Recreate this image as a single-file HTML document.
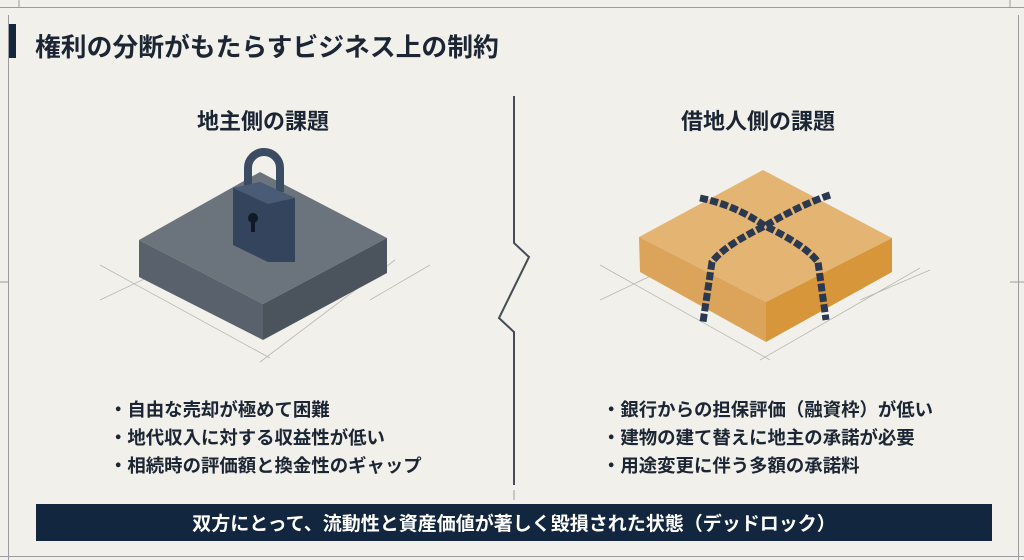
<!DOCTYPE html>
<html><head><meta charset="utf-8"><style>
body{margin:0;width:1024px;height:560px;background:#f1f0ea;overflow:hidden;position:relative;font-family:"Liberation Sans","Noto Sans CJK JP",sans-serif;color:#1c2533}
.t{position:absolute;font-weight:bold;white-space:nowrap}
</style></head><body>
<svg width="1024" height="560" style="position:absolute;left:0;top:0">
<g stroke="#9a9c9e" stroke-width="1" fill="none">
<line x1="0" y1="7.5" x2="1024" y2="7.5"/><line x1="8.5" y1="15" x2="8.5" y2="560"/><line x1="1018.5" y1="15" x2="1018.5" y2="560"/>
<line x1="0" y1="556.5" x2="1024" y2="556.5"/><line x1="19" y1="0" x2="19" y2="7"/><line x1="1010" y1="0" x2="1010" y2="7"/>
<line x1="0" y1="282" x2="8" y2="282"/><line x1="1010" y1="282" x2="1024" y2="282"/>
<line x1="514" y1="490" x2="514" y2="500"/>
</g>
<g stroke="#b8b8b4" stroke-width="0.8">
<line x1="100" y1="265" x2="270" y2="358"/><line x1="100" y1="300" x2="180" y2="262"/><line x1="395" y1="260" x2="260" y2="362"/><line x1="430" y1="265" x2="370" y2="300"/>
<line x1="600" y1="265" x2="770" y2="360"/><line x1="600" y1="300" x2="680" y2="262"/><line x1="920" y1="268" x2="760" y2="360"/><line x1="930" y1="270" x2="860" y2="300"/>
</g>
<rect x="9" y="24" width="7" height="34" fill="#13263f"/>
<path d="M514 96 V243 L529 257 L499 318 L514 332 V485" stroke="#454c55" stroke-width="2" fill="none"/>
<polygon points="139,240 260,172 387,238 263,304" fill="#6b737d"/>
<polygon points="139,240 263,304 263,340 139,277" fill="#59626c"/>
<polygon points="263,304 387,238 387,273 263,340" fill="#4b535d"/>
<path d="M248 192 V168 a16 16 0 0 1 32 0 V192" stroke="#3a4b62" stroke-width="8" fill="none"/>
<polygon points="233,188 260,182 295,198 295,262 268,262 233,245" fill="#33445c"/>
<polygon points="260,182 295,198 268,204 233,188" fill="#4a5c75"/>
<circle cx="253" cy="218" r="5" fill="#101a26"/><rect x="251" y="218" width="4" height="14" fill="#101a26"/>
<polygon points="639,237 763,170 892,238 766,302" fill="#e4b473"/>
<polygon points="639,237 766,302 766,342 640,272" fill="#dca45a"/>
<polygon points="766,302 892,238 892,272 766,342" fill="#d7963a"/>
<g stroke="#2a3850" stroke-width="7" fill="none" stroke-dasharray="8 2.5">
<path d="M830 195 Q800 205 765 226 Q725 245 712 262 L703 322"/>
<path d="M700 198 Q735 205 765 226 Q805 245 818 262 L826 320"/>
</g>
<rect x="36" y="504" width="956" height="37" fill="#13263f"/>
</svg>
<div class="t" style="left:35px;top:27px;font-size:25.8px">権利の分断がもたらすビジネス上の制約</div>
<div class="t" style="left:197px;top:104px;font-size:22px">地主側の課題</div>
<div class="t" style="left:681px;top:104px;font-size:22px">借地人側の課題</div>
<div class="t" style="left:109px;top:396px;font-size:18.4px;line-height:28px">・自由な売却が極めて困難<br>・地代収入に対する収益性が低い<br>・相続時の評価額と換金性のギャップ</div>
<div class="t" style="left:602px;top:396px;font-size:18.4px;line-height:28px">・銀行からの担保評価（融資枠）が低い<br>・建物の建て替えに地主の承諾が必要<br>・用途変更に伴う多額の承諾料</div>
<div class="t" style="left:36px;width:956px;top:509px;text-align:center;color:#fff;font-size:19px">双方にとって、流動性と資産価値が著しく毀損された状態（デッドロック）</div>
</body></html>
